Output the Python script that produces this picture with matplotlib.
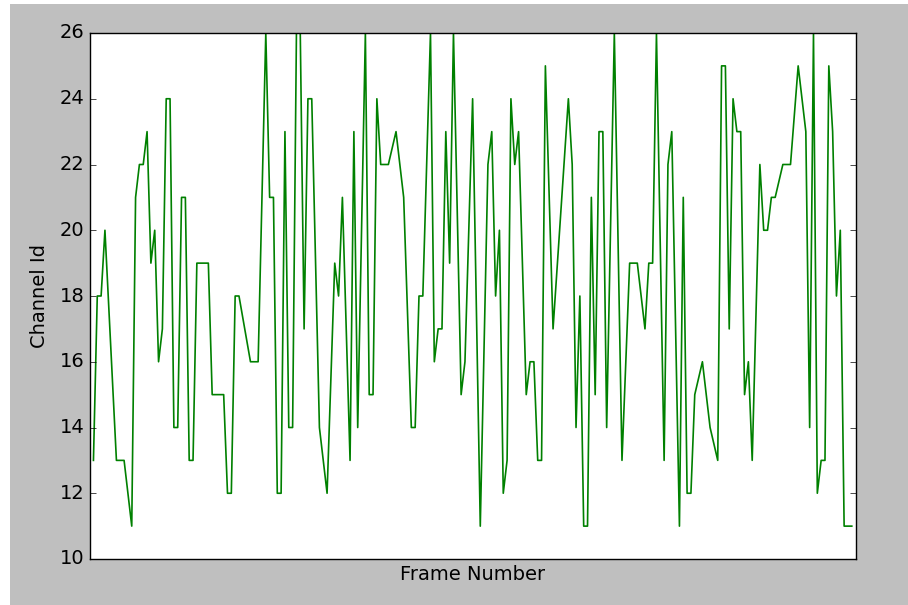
import matplotlib
matplotlib.use('Agg')
import matplotlib.pyplot as plt
from matplotlib.patches import Rectangle

# frame index and the channel id seen at that frame
frames = [0, 1, 2, 3, 6, 8, 10, 11, 12, 13, 14, 15, 16, 17, 18, 19, 20, 21, 22, 23,
          24, 25, 26, 27, 30, 31, 34, 35, 36, 37, 38, 41, 43, 45, 46, 47, 48, 49, 50, 51,
          52, 53, 54, 55, 56, 57, 59, 61, 63, 64, 65, 67, 68, 69, 71, 72, 73, 74, 75, 77,
          79, 81, 83, 84, 85, 86, 88, 89, 90, 91, 92, 93, 94, 96, 97, 99, 101, 103, 104, 105,
          106, 107, 108, 109, 110, 111, 113, 114, 115, 116, 117, 118, 120, 124, 125, 126, 127, 128, 129, 130,
          131, 132, 133, 134, 136, 138, 140, 142, 144, 145, 146, 147, 149, 150, 151, 153, 154, 155, 156, 157,
          159, 161, 163, 164, 165, 166, 167, 168, 169, 170, 171, 172, 174, 175, 176, 177, 178, 180, 182, 184,
          186, 187, 188, 189, 190, 191, 192, 193, 194, 195, 196, 198]
channels = [13, 18, 18, 20, 13, 13, 11, 21, 22, 22, 23, 19, 20, 16, 17, 24, 24, 14, 14, 21,
            21, 13, 13, 19, 19, 15, 15, 12, 12, 18, 18, 16, 16, 26, 21, 21, 12, 12, 23, 14,
            14, 26, 26, 17, 24, 24, 14, 12, 19, 18, 21, 13, 23, 14, 26, 15, 15, 24, 22, 22,
            23, 21, 14, 14, 18, 18, 26, 16, 17, 17, 23, 19, 26, 15, 16, 24, 11, 22, 23, 18,
            20, 12, 13, 24, 22, 23, 15, 16, 16, 13, 13, 25, 17, 24, 22, 14, 18, 11, 11, 21,
            15, 23, 23, 14, 26, 13, 19, 19, 17, 19, 19, 26, 13, 22, 23, 11, 21, 12, 12, 15,
            16, 14, 13, 25, 25, 17, 24, 23, 23, 15, 16, 13, 22, 20, 20, 21, 21, 22, 22, 25,
            23, 14, 26, 12, 13, 13, 25, 23, 18, 20, 11, 11]

plt.style.use('classic')
plt.rcParams['font.size'] = 14

fig = plt.figure(figsize=(9.08, 6.05), dpi=100)
fig.subplots_adjust(left=90 / 908, right=856 / 908, bottom=1 - 559 / 605, top=1 - 33 / 605)

# white margin strips around the gray figure
fig.patches.append(Rectangle((0, 0), 10 / 908, 1, transform=fig.transFigure,
                             facecolor='white', edgecolor='none', zorder=-1))
fig.patches.append(Rectangle((0, 1 - 4 / 605), 1, 4 / 605, transform=fig.transFigure,
                             facecolor='white', edgecolor='none', zorder=-1))

ax = fig.add_subplot(111)
ax.plot(frames, channels, color='g', linewidth=1.2)
ax.set_xlim(-0.9, 199.1)
ax.set_ylim(10, 26)
ax.set_yticks(range(10, 27, 2))
ax.set_xticks([])
ax.set_xlabel('Frame Number', labelpad=4)
ax.set_ylabel('Channel Id', labelpad=8)

fig.savefig('out.png', dpi=100, facecolor=fig.get_facecolor())
